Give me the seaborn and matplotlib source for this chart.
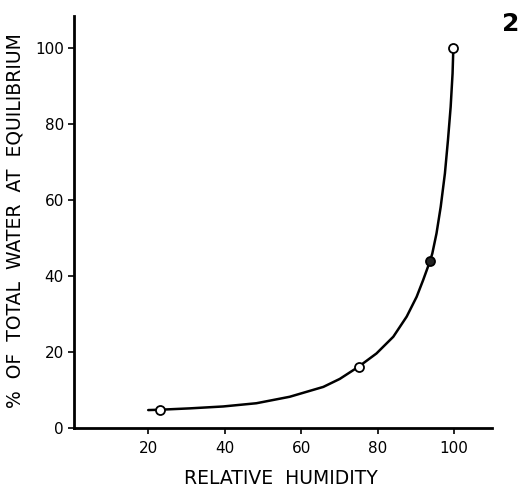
import matplotlib
matplotlib.use("Agg")
import matplotlib.pyplot as plt
import seaborn as sns
import pandas as pd

# Curve (relative humidity, % total water)
curve_rh = [20, 23.2, 30.9, 39.6, 48.3, 57.0, 65.8, 70.1, 75.0, 79.7, 84.1,
            87.6, 90.2, 91.9, 93.7, 94.3, 95.4, 96.5, 97.6, 98.4, 99.1, 99.6, 99.8]
curve_w = [4.8, 4.9, 5.25, 5.75, 6.6, 8.3, 10.9, 13.0, 16.2, 19.7, 24.1,
           29.4, 34.6, 39.0, 44.0, 46.0, 51.3, 58.3, 67.1, 75.9, 84.6, 93.4, 100]

# Measured points
open_rh = [23.2, 75.0, 99.8]
open_w = [4.9, 16.2, 100]
filled_rh = [93.7]
filled_w = [44.0]

xticks = [20, 40, 60, 80, 100]
yticks = [0, 20, 40, 60, 80, 100]

sns.set_style("ticks")
plt.rcParams['font.family'] = ['DejaVu Sans']

fig = plt.figure(figsize=(5.26, 4.87), dpi=100)
ax = fig.add_axes([0.140, 0.1205, 0.796, 0.8466])

curve = pd.DataFrame({"rh": curve_rh, "w": curve_w})
sns.lineplot(data=curve, x="rh", y="w", sort=False, estimator=None,
             color="black", linewidth=1.8, ax=ax, zorder=2,
             solid_capstyle="round", solid_joinstyle="round")

sns.scatterplot(x=open_rh, y=open_w, marker="o", s=42, facecolor="white",
                edgecolor="black", linewidth=1.3, ax=ax, zorder=3)
sns.scatterplot(x=filled_rh, y=filled_w, marker="o", s=42, facecolor="#222222",
                edgecolor="black", linewidth=1.3, ax=ax, zorder=3)

ax.set_xlim(0.5, 110)
ax.set_ylim(0, 108.5)
ax.set_xticks(xticks)
ax.set_yticks(yticks)
ax.tick_params(axis="both", direction="out", length=4, width=1.2,
               labelsize=11, colors="black")
ax.tick_params(axis="x", pad=5)
ax.tick_params(axis="y", pad=3)
for side in ["top", "right"]:
    ax.spines[side].set_visible(False)
for side in ["left", "bottom"]:
    ax.spines[side].set_linewidth(2.0)
    ax.spines[side].set_color("black")

ax.set_xlabel("RELATIVE  HUMIDITY", fontsize=13.5, color="black")
ax.set_ylabel("%  OF  TOTAL  WATER  AT  EQUILIBRIUM", fontsize=13.5, color="black")
ax.xaxis.set_label_coords(0.496, -0.098)
ax.yaxis.set_label_coords(-0.118, 0.505)

fig.text(0.988, 0.975, "2", fontsize=18, fontweight="bold", ha="right", va="top",
         color="black")

fig.savefig("out.png", dpi=100)
